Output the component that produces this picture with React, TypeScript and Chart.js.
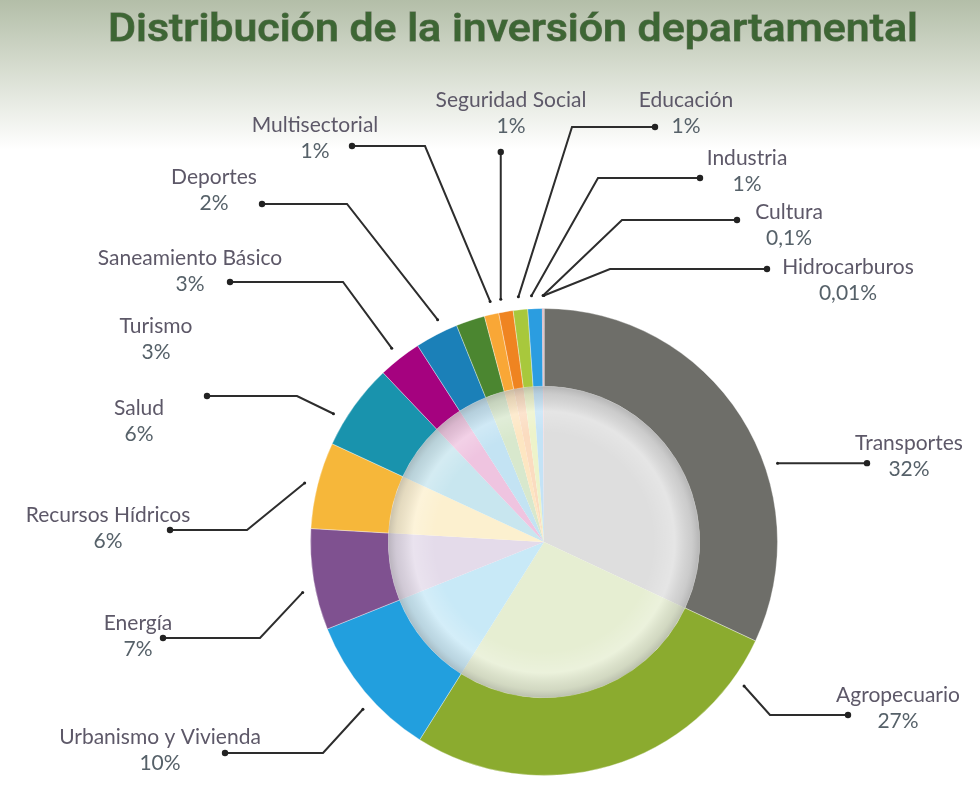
import React, { useEffect, useRef } from 'react';
import { Chart, registerables } from 'chart.js';

Chart.register(...registerables);

const titleText = 'Distribución de la inversión departamental';

const categories = [
  'Transportes',
  'Agropecuario',
  'Urbanismo y Vivienda',
  'Energía',
  'Recursos Hídricos',
  'Salud',
  'Turismo',
  'Saneamiento Básico',
  'Deportes',
  'Multisectorial',
  'Seguridad Social',
  'Educación',
  'Industria',
  'Cultura',
  'Hidrocarburos',
];

const values = [32, 27, 10, 7, 6, 6, 3, 3, 2, 1, 1, 1, 1, 0.1, 0.01];

const valueLabels = ['32%', '27%', '10%', '7%', '6%', '6%', '3%', '3%', '2%', '1%', '1%', '1%', '1%', '0,1%', '0,01%'];

const ringColors = [
  '#6e6e69', '#8bab2f', '#229fde', '#7f5190', '#f6b73a', '#1993ad', '#a5027f', '#1b80b8',
  '#4b8630', '#f9a736', '#ef8421', '#a8c83c', '#2b9de0', '#d07a8a', '#8a8a8a',
];

const innerColors = [
  '#dedede', '#e6eed2', '#c8e9f7', '#e4dbea', '#fcf0cf', '#c8e6ef', '#efc4e0', '#c3e3f3',
  '#d8e8cd', '#fde6c2', '#fbdcc0', '#edf3ca', '#c4e3f6', '#f0d6dc', '#e0e0e0',
];

// Label layout (pixel offsets from the doughnut centre). t = where on the slice the leader starts.
type LabelLayout = { t: number | null; elbow: [number, number] | null; dotX: number | null; text: [number, number] };
const labelLayout: LabelLayout[] = [
  { t: 0.62, elbow: null, dotX: 323, text: [365, -99] },
  { t: 0.11, elbow: [226, 173], dotX: 304, text: [354, 153] },
  { t: 0.42, elbow: [-221, 211], dotX: -319, text: [-384, 195] },
  { t: 0.4, elbow: [-284, 96], dotX: -381, text: [-406, 81] },
  { t: 0.49, elbow: [-297, -12], dotX: -374, text: [-436, -27] },
  { t: 0.3, elbow: [-247, -146], dotX: -337, text: [-405, -134] },
  { t: null, elbow: null, dotX: null, text: [-388, -216] },
  { t: -0.5, elbow: [-201, -260], dotX: -314, text: [-354, -284] },
  { t: -0.5, elbow: [-197, -338], dotX: -282, text: [-330, -365] },
  { t: 0.6, elbow: [-119, -396], dotX: -192, text: [-229, -417] },
  { t: 0.3, elbow: null, dotX: null, text: [-33, -442] },
  { t: 0.45, elbow: [28, -415], dotX: 111, text: [142, -442] },
  { t: 0.3, elbow: [54, -364], dotX: 156, text: [203, -384] },
  { t: 0.5, elbow: [78, -322], dotX: 193, text: [245, -330] },
  { t: 0.5, elbow: [66, -273], dotX: 223, text: [304, -275] },
];
const segSocialDotY = -390;

const overlayPlugin = {
  id: 'overlay',
  beforeDraw(chart: any) {
    const { ctx, width, height } = chart;
    ctx.save();
    ctx.fillStyle = '#ffffff';
    ctx.fillRect(0, 0, width, height);
    const g = ctx.createLinearGradient(0, 0, 0, 150);
    g.addColorStop(0, '#b3bea8');
    g.addColorStop(0.45, '#d6dccf');
    g.addColorStop(1, 'rgba(255,255,255,1)');
    ctx.fillStyle = g;
    ctx.fillRect(0, 0, width, 150);
    ctx.restore();
  },
  afterDatasetsDraw(chart: any) {
    const { ctx } = chart;
    const arc = chart.getDatasetMeta(1).data[0];
    if (!arc) return;
    const { x, y, outerRadius } = arc;
    ctx.save();
    const g = ctx.createRadialGradient(x, y, 0, x, y, outerRadius);
    g.addColorStop(0, 'rgba(255,255,255,0)');
    g.addColorStop(0.7, 'rgba(255,255,255,0)');
    g.addColorStop(0.84, 'rgba(255,255,255,0.22)');
    g.addColorStop(0.95, 'rgba(120,120,120,0.18)');
    g.addColorStop(1, 'rgba(95,95,95,0.32)');
    ctx.fillStyle = g;
    ctx.beginPath();
    ctx.arc(x, y, outerRadius, 0, Math.PI * 2);
    ctx.fill();
    ctx.restore();
  },
  afterDraw(chart: any) {
    const { ctx } = chart;
    const meta = chart.getDatasetMeta(0);
    const first = meta.data[0];
    if (!first) return;
    const cx = first.x;
    const cy = first.y;
    const R = first.outerRadius;

    // Title
    ctx.save();
    ctx.font = '500 39px Roboto';
    const tw = ctx.measureText(titleText).width;
    const sx = 810 / tw;
    ctx.translate(513, 41);
    ctx.scale(sx, 1);
    ctx.textAlign = 'center';
    ctx.textBaseline = 'alphabetic';
    ctx.lineWidth = 1;
    ctx.strokeStyle = 'rgba(35,55,25,0.6)';
    ctx.strokeText(titleText, 0, 0);
    ctx.fillStyle = '#3d6634';
    ctx.fillText(titleText, 0, 0);
    ctx.restore();

    ctx.save();
    ctx.lineWidth = 2;
    ctx.strokeStyle = '#2d2d2d';
    ctx.fillStyle = '#222';
    meta.data.forEach((a: any, i: number) => {
      const L = labelLayout[i];
      if (L.t === null) return;
      const ang = a.startAngle + L.t * (a.endAngle - a.startAngle);
      const sxp = cx + (R + 13) * Math.cos(ang);
      const syp = cy + (R + 13) * Math.sin(ang);
      const pts: [number, number][] = [[sxp, syp]];
      if (L.elbow) {
        pts.push([cx + L.elbow[0], cy + L.elbow[1]]);
        pts.push([cx + (L.dotX as number), cy + L.elbow[1]]);
      } else if (L.dotX !== null) {
        pts.push([cx + L.dotX, syp]);
      } else {
        pts.push([sxp, cy + segSocialDotY]);
      }
      ctx.beginPath();
      ctx.moveTo(pts[0][0], pts[0][1]);
      for (let k = 1; k < pts.length; k++) ctx.lineTo(pts[k][0], pts[k][1]);
      ctx.stroke();
      const end = pts[pts.length - 1];
      ctx.beginPath();
      ctx.arc(end[0], end[1], 3.2, 0, Math.PI * 2);
      ctx.fill();
      ctx.beginPath();
      ctx.arc(pts[0][0], pts[0][1], 1.5, 0, Math.PI * 2);
      ctx.fill();
    });
    ctx.restore();

    ctx.save();
    ctx.textAlign = 'center';
    ctx.textBaseline = 'middle';
    ctx.font = '21px Lato';
    categories.forEach((name, i) => {
      const L = labelLayout[i];
      const tx = cx + L.text[0];
      const ty = cy + L.text[1];
      ctx.fillStyle = '#5d5868';
      ctx.fillText(name, tx, ty);
      ctx.fillStyle = '#566169';
      ctx.fillText(valueLabels[i], tx, ty + 26);
    });
    ctx.restore();
  },
};

export default function App() {
  const ref = useRef<HTMLCanvasElement | null>(null);
  useEffect(() => {
    document.body.style.margin = '0';
    if (!ref.current) return;
    const chart = new Chart(ref.current, {
      type: 'doughnut',
      data: {
        labels: categories,
        datasets: [
          {
            data: values,
            backgroundColor: ringColors,
            borderWidth: 1,
            borderColor: 'rgba(255,255,255,0.35)',
            weight: 1,
          } as any,
          {
            data: values,
            backgroundColor: innerColors,
            borderWidth: 0,
            weight: 2,
          } as any,
        ],
      },
      options: {
        responsive: false,
        animation: false,
        devicePixelRatio: 1,
        cutout: 0,
        layout: { padding: { left: 310, top: 308, right: 202, bottom: 18 } },
        plugins: {
          legend: { display: false },
          tooltip: { enabled: false },
          title: { display: false },
        },
      } as any,
      plugins: [overlayPlugin],
    });
    return () => chart.destroy();
  }, []);
  return (
    <div style={{ width: 980, height: 794, background: '#fff' }}>
      <canvas ref={ref} width={980} height={794} style={{ display: 'block' }} />
    </div>
  );
}
